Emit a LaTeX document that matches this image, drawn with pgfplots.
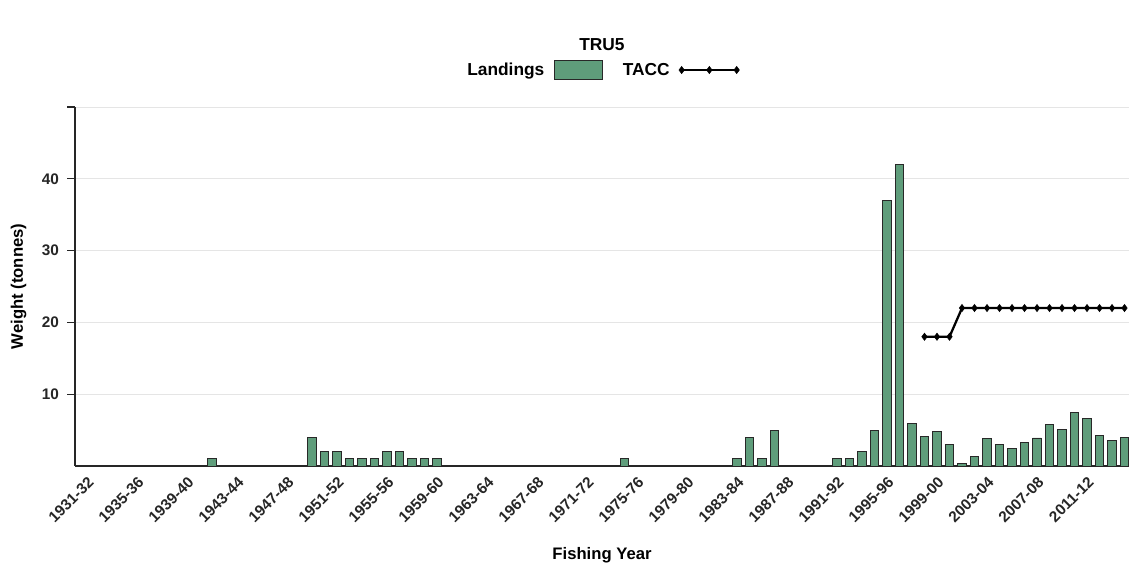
\documentclass[border=0pt]{standalone}
\usepackage{pgfplots}
\pgfplotsset{compat=1.18}
\usepackage{fontspec}
\setmainfont{Liberation Sans}
\definecolor{landgreen}{RGB}{95,157,123}
\definecolor{edgegray}{RGB}{40,40,40}
\pgfplotsset{
    boxlegend/.style={legend image code/.code={\draw[##1] (0cm,-0.25cm) rectangle (1.27cm,0.25cm);}},
    lineleg/.style={legend image code/.code={\draw[mark repeat=1,##1] plot coordinates {(0cm,0cm) (0.73cm,0cm) (1.45cm,0cm)};}},
}

\begin{document}
\begin{tikzpicture}
\path[use as bounding box] (-56.25pt,-72.75pt) rectangle (790.5pt,349.5pt);
\begin{axis}[
    scale only axis,
    width=790.5pt,
    height=269.25pt,
    xmin=1930.04, xmax=2014.36,
    ymin=0, ymax=50,
    axis x line*=bottom,
    axis y line*=left,
    axis line style={black!85, line width=0.8pt},
    tick align=outside,
    xtick={1931,1935,...,2011},
    xticklabels={1931-32,1935-36,1939-40,1943-44,1947-48,1951-52,1955-56,1959-60,1963-64,1967-68,1971-72,1975-76,1979-80,1983-84,1987-88,1991-92,1995-96,1999-00,2003-04,2007-08,2011-12},
    major x tick style={draw=none},
    ytick={10,20,30,40,50},
    yticklabels={10,20,30,40,{}},
    major y tick style={black!85, line width=0.8pt},
    major tick length=6pt,
    ymajorgrids,
    grid style={black!10, line width=0.6pt},
    tick label style={font=\fontsize{11.5}{13}\selectfont\bfseries, text=black!85},
    yticklabel style={xshift=-2.5pt},
    xticklabel style={rotate=45, anchor=north east, inner sep=1pt},
    title={TRU5},
    title style={at={(axis description cs:0.5,1.1504)}, anchor=center, font=\fontsize{13}{15}\selectfont\bfseries},
    xlabel={Fishing Year},
    xlabel style={at={(axis description cs:0.5,-0.248)}, anchor=center, font=\fontsize{12.5}{14}\selectfont\bfseries},
    ylabel={Weight (tonnes)},
    ylabel style={at={(axis description cs:-0.0535,0.5)}, anchor=center, font=\fontsize{12.5}{14}\selectfont\bfseries},
    legend style={at={(axis description cs:0.5,1.103)}, anchor=center, draw=none, fill=none,
        legend columns=-1, font=\fontsize{13}{15}\selectfont\bfseries,
        /tikz/every odd column/.append style={column sep=5pt},
        /tikz/every even column/.append style={column sep=13pt}},
    legend plot pos=right,
]

% landings (t)
\addplot[ybar, bar width=0.7, fill=landgreen, draw=edgegray, line width=0.7pt, boxlegend]
coordinates {
    (1941,1) (1949,4) (1950,2) (1951,2) (1952,1) (1953,1) (1954,1) (1955,2)
    (1956,2) (1957,1) (1958,1) (1959,1) (1974,1) (1983,1) (1984,4) (1985,1)
    (1986,5) (1991,1) (1992,1) (1993,2) (1994,5) (1995,37) (1996,42)
    (1997,5.9) (1998,4.1) (1999,4.8) (2000,3.0) (2001,0.3) (2002,1.35)
    (2003,3.8) (2004,3.0) (2005,2.45) (2006,3.3) (2007,3.9) (2008,5.8)
    (2009,5.1) (2010,7.4) (2011,6.6) (2012,4.25) (2013,3.5) (2014,4.0)
};
\addlegendentry{Landings}

% TACC
\addplot[black, line width=1.7pt, mark=diamond*, mark size=2.7pt,
    mark options={line width=0.4pt}, lineleg]
coordinates {
    (1998,18) (1999,18) (2000,18) (2001,22) (2002,22) (2003,22) (2004,22)
    (2005,22) (2006,22) (2007,22) (2008,22) (2009,22) (2010,22) (2011,22)
    (2012,22) (2013,22) (2014,22)
};
\addlegendentry{TACC}
\end{axis}
\end{tikzpicture}
\end{document}
